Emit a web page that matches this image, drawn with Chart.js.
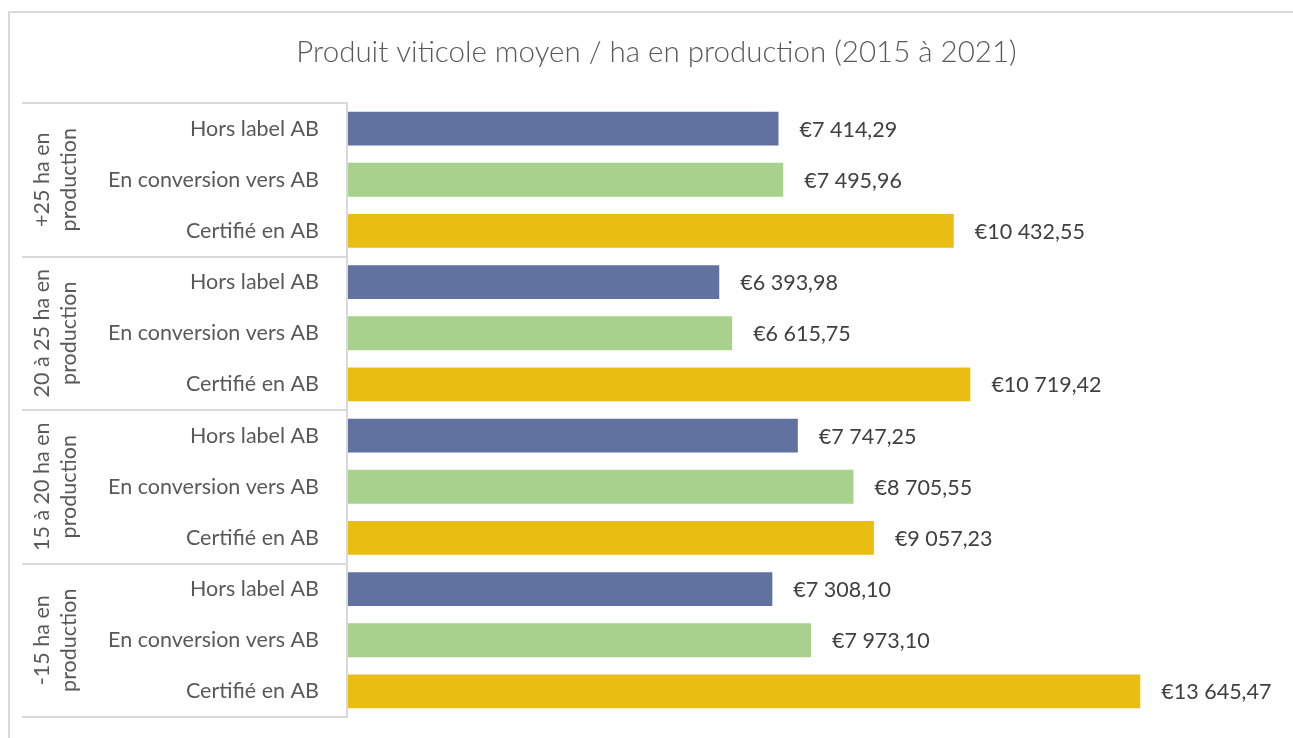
<!DOCTYPE html>
<html>
<head>
<meta charset="utf-8">
<script src="https://cdn.jsdelivr.net/npm/chart.js@4/dist/chart.umd.min.js"></script>
<style>
  html, body { margin: 0; padding: 0; background: #ffffff; }
  #wrap { position: relative; width: 1293px; height: 738px; }
</style>
</head>
<body>
<div id="wrap"><canvas id="c" width="1293" height="738"></canvas></div>
<script>
const chartTitle = "Produit viticole moyen / ha en production (2015 à 2021)";
const groups = [["+25 ha en", "production"], ["20 à 25 ha en", "production"], ["15 à 20 ha en", "production"], ["-15 ha en", "production"]];
const seriesNames = ["Hors label AB", "En conversion vers AB", "Certifié en AB"];
const horsLabel = [7414.29, 6393.98, 7747.25, 7308.10];
const conversion = [7495.96, 6615.75, 8705.55, 7973.10];
const certifie = [10432.55, 10719.42, 9057.23, 13645.47];
const seriesColors = ["#6272A0", "#A9D18E", "#EABD13"];

const seriesValues = [horsLabel, conversion, certifie];
const labels = [], values = [], colors = [];
groups.forEach((g, gi) => {
  seriesNames.forEach((s, si) => {
    labels.push(s);
    values.push(seriesValues[si][gi]);
    colors.push(seriesColors[si]);
  });
});

function fmt(v) {
  const parts = v.toFixed(2).split(".");
  const int = parts[0].replace(/\B(?=(\d{3})+(?!\d))/g, " ");
  return "€" + int + "," + parts[1];
}

const FONT = "Lato, 'Open Sans', sans-serif";
const LABEL_SIZE = 21.5;

const deco = {
  id: "deco",
  beforeDraw(chart) {
    const ctx = chart.ctx;
    ctx.save();
    ctx.fillStyle = "#ffffff";
    ctx.fillRect(0, 0, chart.width, chart.height);
    ctx.strokeStyle = "#D9D9D9";
    ctx.lineWidth = 2;
    ctx.beginPath();
    ctx.moveTo(9, chart.height + 2);
    ctx.lineTo(9, 12);
    ctx.lineTo(chart.width + 2, 12);
    ctx.stroke();
    ctx.restore();
  },
  afterDatasetsDraw(chart) {
    const ctx = chart.ctx;
    const y = chart.scales.y;
    const area = chart.chartArea;
    const meta = chart.getDatasetMeta(0);
    ctx.save();
    // value labels
    ctx.font = LABEL_SIZE + "px " + FONT;
    ctx.fillStyle = "#404040";
    ctx.textAlign = "left";
    ctx.textBaseline = "middle";
    meta.data.forEach((bar, i) => {
      ctx.fillText(fmt(values[i]), bar.x + 21, bar.y + 1);
    });
    // inner category labels
    ctx.fillStyle = "#595959";
    ctx.textAlign = "right";
    labels.forEach((l, i) => {
      ctx.fillText(l, area.left - 29, y.getPixelForValue(i));
    });
    // separators
    ctx.strokeStyle = "#D9D9D9";
    ctx.lineWidth = 2;
    const n = seriesNames.length;
    const bounds = [area.top];
    for (let g = 1; g < groups.length; g++) {
      bounds.push((y.getPixelForValue(g * n - 1) + y.getPixelForValue(g * n)) / 2);
    }
    bounds.push(area.bottom);
    ctx.beginPath();
    bounds.forEach(b => {
      const yy = Math.round(b);
      ctx.moveTo(22, yy);
      ctx.lineTo(area.left - 1, yy);
    });
    ctx.moveTo(area.left - 1, area.top - 1);
    ctx.lineTo(area.left - 1, area.bottom + 1);
    ctx.stroke();
    // group labels (rotated)
    ctx.fillStyle = "#595959";
    ctx.textAlign = "center";
    ctx.textBaseline = "middle";
    groups.forEach((g, gi) => {
      const cy = (bounds[gi] + bounds[gi + 1]) / 2;
      ctx.save();
      ctx.translate(56, cy);
      ctx.rotate(-Math.PI / 2);
      ctx.fillText(g[0], 0, -14);
      ctx.fillText(g[1], 0, 13);
      ctx.restore();
    });
    ctx.restore();
  }
};

new Chart(document.getElementById("c"), {
  type: "bar",
  data: {
    labels: labels,
    datasets: [{
      data: values,
      backgroundColor: colors,
      borderWidth: 0,
      barPercentage: 0.66,
      categoryPercentage: 1.0
    }]
  },
  options: {
    indexAxis: "y",
    responsive: false,
    animation: false,
    layout: { padding: { left: 36, right: 16, top: 20, bottom: 21 } },
    plugins: {
      legend: { display: false },
      tooltip: { enabled: false },
      title: {
        display: true,
        text: chartTitle,
        color: "#595959",
        font: { family: FONT, size: 29.5, weight: "300" },
        padding: { top: 14.3, bottom: 33.3 }
      }
    },
    scales: {
      x: { display: false, min: 0, max: 16000 },
      y: {
        display: true,
        ticks: { display: false },
        grid: { display: false, drawTicks: false },
        border: { display: false },
        afterFit(scale) { scale.width = 312; }
      }
    }
  },
  plugins: [deco]
});
</script>
</body>
</html>
